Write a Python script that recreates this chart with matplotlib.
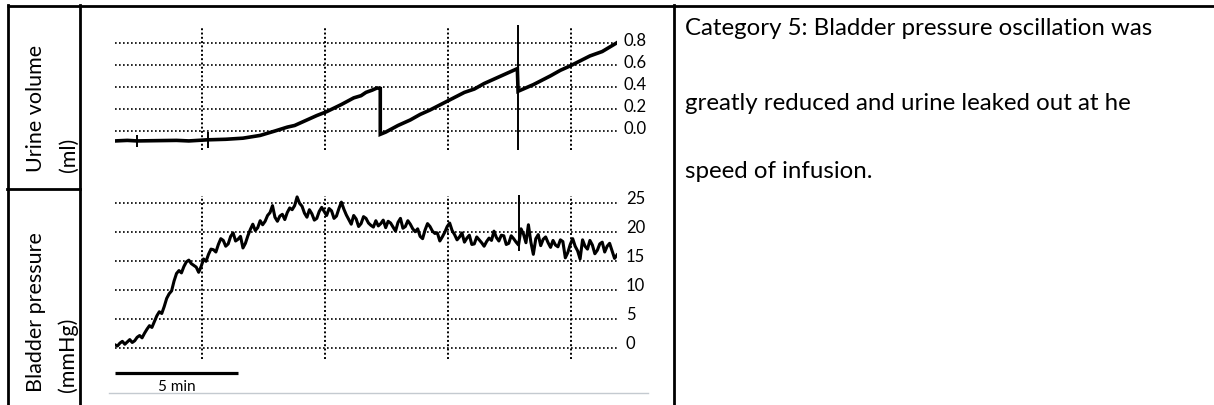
import numpy as np
import matplotlib
matplotlib.use('Agg')
import matplotlib.pyplot as plt
from matplotlib import transforms

plt.rcParams['font.family'] = ['Lato', 'DejaVu Sans']

# urine volume trace (ml), time in min
volume_t = [0.0, 0.5, 0.9, 1.5, 2.5, 3.0, 3.75, 4.5, 5.2, 5.9, 6.5, 7.0, 7.3, 7.6, 8.2,
            8.6, 9.2, 9.7, 10.0, 10.2, 10.45, 10.65, 10.78, 10.78, 11.0, 11.5, 12.0, 12.4,
            12.8, 13.5, 14.2, 14.6, 15.0, 15.7, 16.35, 16.38, 17.0, 17.7, 18.1, 18.5,
            19.3, 19.8, 20.4]
volume_v = [-0.09, -0.085, -0.09, -0.088, -0.085, -0.09, -0.08, -0.075, -0.065, -0.04,
            0.0, 0.035, 0.05, 0.08, 0.14, 0.175, 0.24, 0.30, 0.32, 0.35, 0.37, 0.39,
            0.385, -0.03, -0.01, 0.05, 0.10, 0.15, 0.19, 0.27, 0.35, 0.38, 0.43, 0.50,
            0.565, 0.36, 0.42, 0.50, 0.55, 0.59, 0.68, 0.72, 0.80]
# small marks and the artefact spike on the volume trace
vol_mark_t = [0.88, 3.79, 16.38]
vol_mark_lo = [-0.145, -0.157, -0.17]
vol_mark_hi = [-0.036, -0.006, 0.96]

# bladder pressure (mmHg), one reading every 0.1 min
pressure = [0.6, 0.4, 0.9, 1.2, 0.7, 1.1, 1.5, 1.0, 1.3, 1.9,
            2.2, 1.8, 2.6, 3.3, 3.9, 3.6, 4.6, 5.6, 6.3, 6.0,
            7.2, 8.6, 9.4, 9.9, 11.6, 12.9, 13.4, 13.0, 14.1, 14.9,
            15.2, 14.6, 14.3, 14.0, 13.1, 14.1, 15.4, 15.0, 16.2, 17.1,
            17.0, 16.6, 17.9, 18.9, 18.6, 17.6, 18.0, 19.3, 19.9, 18.5,
            18.8, 19.3, 17.3, 18.1, 19.4, 20.5, 21.4, 20.3, 20.8, 22.0,
            21.3, 21.9, 22.9, 23.4, 24.6, 22.6, 21.9, 22.8, 23.1, 22.2,
            23.4, 24.2, 23.9, 24.6, 26.1, 25.0, 24.5, 23.3, 22.6, 23.9,
            23.2, 22.1, 22.4, 23.6, 24.3, 23.6, 22.9, 24.1, 23.7, 22.4,
            22.8, 24.1, 25.2, 24.0, 23.0, 22.2, 21.4, 22.9, 22.3, 21.0,
            21.5, 22.7, 22.4, 21.6, 21.2, 20.9, 22.0, 21.1, 21.5, 22.1,
            20.8, 21.9, 21.6, 20.9, 20.2, 21.7, 22.4, 20.7, 21.0, 22.0,
            21.4, 20.6, 20.1, 20.6, 19.3, 18.9, 20.4, 21.5, 21.0, 20.2,
            19.8, 19.9, 18.5, 19.2, 20.0, 21.0, 21.6, 20.3, 19.6, 18.7,
            19.2, 19.9, 18.3, 19.0, 19.5, 17.9, 18.0, 19.2, 18.7, 18.2,
            17.6, 18.4, 19.0, 18.6, 20.2, 19.1, 18.5, 19.5, 19.4, 17.9,
            18.1, 19.4, 18.9, 18.3, 17.8, 20.6, 19.7, 18.2, 21.3, 18.3,
            16.2, 18.9, 19.6, 17.7, 18.8, 19.2, 18.2, 17.4, 18.6, 17.8,
            17.5, 18.7, 18.4, 15.6, 16.5, 17.9, 18.9, 17.6, 16.8, 15.4,
            18.7, 17.6, 17.1, 18.6, 17.8, 16.3, 16.9, 18.0, 18.3, 16.6,
            17.6, 18.1, 16.8, 15.5, 16.1]
press_spike_t = [16.42]
press_spike_lo = [16.7]
press_spike_hi = [26.4]

volume_ticks = [0.0, 0.2, 0.4, 0.6, 0.8]
volume_labels = ['0.0', '0.2', '0.4', '0.6', '0.8']
pressure_ticks = [0, 5, 10, 15, 20, 25]
pressure_labels = ['0', '5', '10', '15', '20', '25']
time_grid = [3.54, 8.54, 13.54, 18.54]
t_end = 20.4

press_t = np.arange(len(pressure)) * 0.1

fig = plt.figure(figsize=(12.14, 4.05), dpi=100)

# table frame drawn in pixel coordinates
frame = fig.add_axes([0, 0, 1, 1])
frame.set_xlim(0, 1214)
frame.set_ylim(405, 0)
frame.axis('off')
lw_tab = 2.0
frame.plot([7, 1214], [6, 6], color='black', lw=lw_tab, solid_capstyle='butt')
frame.plot([7.5, 7.5], [5, 405], color='black', lw=lw_tab)
frame.plot([80, 80], [5, 405], color='black', lw=lw_tab)
frame.plot([674, 674], [5, 405], color='black', lw=lw_tab)
frame.plot([7, 80], [188.5, 188.5], color='black', lw=lw_tab)
frame.plot([109, 648], [392.7, 392.7], color='#c4cad0', lw=1)

lab = dict(rotation=90, rotation_mode='anchor', ha='left', va='center', fontsize=15.5,
           color='black')
frame.text(36, 172, 'Urine volume', **lab)
frame.text(69, 172, '(ml)', **lab)
frame.text(35.5, 392, 'Bladder pressure', **lab)
frame.text(67.5, 392, '(mmHg)', **lab)

desc = ['Category 5: Bladder pressure oscillation was',
        'greatly reduced and urine leaked out at he',
        'speed of infusion.']
for line, yb in zip(desc, [35, 109.5, 178]):
    frame.text(685, yb, line, fontsize=17.3, va='baseline', ha='left', color='black')

grid_h = dict(color='black', lw=1.2, linestyle=(0, (1, 1.4)))
grid_v = dict(color='black', lw=1.4, linestyle=(0, (1, 1.2)))
W = 1214
H = 405


def px_axes(x0, x1, y0, y1):
    return fig.add_axes([x0 / W, 1 - y1 / H, (x1 - x0) / W, (y1 - y0) / H])


# top panel: urine volume
ax1 = px_axes(115, 617, 20, 160)
ax1.set_facecolor('none')
ax1.set_xlim(0, t_end)
ax1.set_ylim((131 - 160) * 0.00906, (131 - 20) * 0.00906)
for v in volume_ticks:
    ax1.axhline(v, **grid_h)
ax1.vlines(time_grid, -0.172, 0.951, **grid_v)
ax1.plot(volume_t, volume_v, color='black', lw=2.6, solid_joinstyle='miter')
ax1.vlines(vol_mark_t, vol_mark_lo, vol_mark_hi, color='black', lw=1.4)
off = transforms.offset_copy(ax1.get_yaxis_transform(), fig=fig, x=7, y=2, units='dots')
for v, s in zip(volume_ticks, volume_labels):
    ax1.text(1.0, v, s, transform=off, ha='left', va='center', fontsize=12, clip_on=False)
ax1.axis('off')

# bottom panel: bladder pressure
ax2 = px_axes(115, 617, 185, 395)
ax2.set_facecolor('none')
ax2.set_xlim(0, t_end)
ax2.set_ylim((348.3 - 395) / 5.8, (348.3 - 185) / 5.8)
for p in pressure_ticks:
    ax2.axhline(p, **grid_h)
ax2.vlines(time_grid, -1.84, 26.26, **grid_v)
ax2.plot(press_t, pressure, color='black', lw=2.2)
ax2.vlines(press_spike_t, press_spike_lo, press_spike_hi, color='black', lw=1.4)
off2 = transforms.offset_copy(ax2.get_yaxis_transform(), fig=fig, x=9, y=4, units='dots')
for p, s in zip(pressure_ticks, pressure_labels):
    ax2.text(1.0, p, s, transform=off2, ha='left', va='center', fontsize=12, clip_on=False)
# 5 min scale bar
ax2.plot([0, 5], [-4.31, -4.31], color='black', lw=2.3, solid_capstyle='butt')
ax2.text(2.5, -6.6, '5 min', ha='center', va='center', fontsize=11)
ax2.axis('off')

fig.savefig('out.png', dpi=100)
